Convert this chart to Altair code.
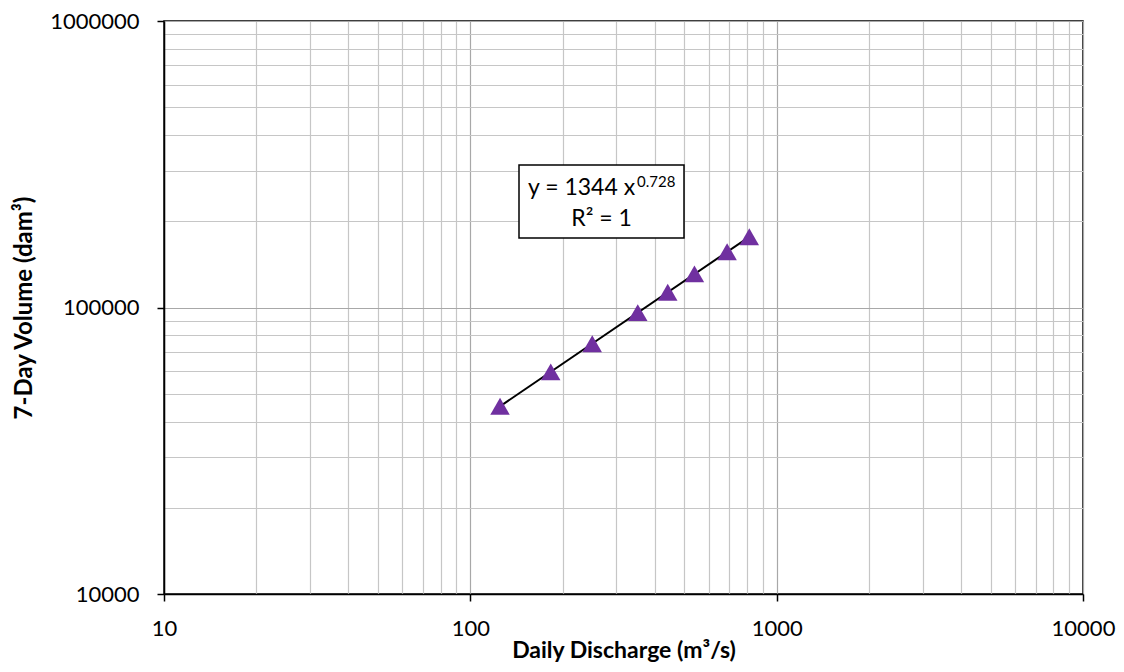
import altair as alt
import pandas as pd

# Data
discharge = [125, 183, 250, 352, 441, 539, 689, 814]
volume = [45200, 59600, 74700, 96000, 113000, 131000, 156500, 176500]
trend_x = [125, 814]
trend_y = [45200, 176500]

x_major = [10, 100, 1000, 10000]
y_major = [10000, 100000, 1000000]
x_grid = [m * d for d in [10, 100, 1000] for m in range(1, 10)] + [10000]
y_grid = [m * d for d in [10000, 100000] for m in range(1, 10)] + [1000000]

eq_main = "y = 1344 x"
eq_exp = "0.728"
eq_r2 = "R² = 1"

FONT = "Lato"
pts = pd.DataFrame({"q": discharge, "v": volume})
trend = pd.DataFrame({"q": trend_x, "v": trend_y})

def test_for(vals):
    return " || ".join(f"datum.value == {v}" for v in vals)

xt = test_for(x_major)
yt = test_for(y_major)

xscale = alt.Scale(type="log", domain=[10, 10000], nice=False)
yscale = alt.Scale(type="log", domain=[10000, 1000000], nice=False)

xaxis = alt.Axis(
    values=x_grid,
    labelExpr=f"({xt}) ? format(datum.value, 'd') : ''",
    title="Daily Discharge (m³/s)",
    grid=True,
    gridColor={"condition": {"test": xt, "value": "#a8a8a8"}, "value": "#c6c6c6"},
    gridWidth=1.2,
    tickOpacity={"condition": {"test": xt, "value": 1}, "value": 0},
    tickColor="black",
    tickSize=7,
    tickWidth=1.5,
    domainColor="black",
    domainWidth=1.5,
    labelFont=FONT,
    labelFontSize=22,
    labelColor="black",
    labelPadding=17,
    labelFlush=False,
    labelOverlap=False,
    titleFont=FONT,
    titleFontSize=23,
    titleFontWeight="bold",
    titleColor="black",
    titlePadding=0,
)
yaxis = alt.Axis(
    values=y_grid,
    labelExpr=f"({yt}) ? format(datum.value, 'd') : ''",
    title="7-Day Volume (dam³)",
    grid=True,
    gridColor={"condition": {"test": yt, "value": "#a8a8a8"}, "value": "#c6c6c6"},
    gridWidth=1.2,
    tickOpacity={"condition": {"test": yt, "value": 1}, "value": 0},
    tickColor="black",
    tickSize=7,
    tickWidth=1.5,
    domainColor="black",
    domainWidth=1.5,
    labelFont=FONT,
    labelFontSize=22,
    labelColor="black",
    labelPadding=18,
    labelFlush=False,
    labelOverlap=False,
    titleFont=FONT,
    titleFontSize=24,
    titleFontWeight="bold",
    titleColor="black",
    titleX=-140,
    titleAngle=270,
    titleAlign="center",
    titleBaseline="middle",
)

line = alt.Chart(trend).mark_line(color="black", strokeWidth=2).encode(
    x=alt.X("q:Q", scale=xscale, axis=xaxis),
    y=alt.Y("v:Q", scale=yscale, axis=yaxis),
)
points = alt.Chart(pts).mark_point(
    shape="triangle-up", filled=True, color="#7030a0", opacity=1, size=380
).encode(x=alt.X("q:Q", scale=xscale), y=alt.Y("v:Q", scale=yscale))

one = "datum.q == 125"
box = alt.Chart(pts).mark_rect(
    fill="white", stroke="black", strokeWidth=1.5
).encode(
    x=alt.value(355), x2=alt.value(520), y=alt.value(144), y2=alt.value(217)
).transform_filter(one)
t1 = alt.Chart(pts).mark_text(
    align="left", baseline="alphabetic", font=FONT, fontSize=23, color="black"
).encode(x=alt.value(364), y=alt.value(174), text=alt.value(eq_main)).transform_filter(one)
t2 = alt.Chart(pts).mark_text(
    align="left", baseline="alphabetic", font=FONT, fontSize=15, color="black"
).encode(x=alt.value(473), y=alt.value(166), text=alt.value(eq_exp)).transform_filter(one)
t3 = alt.Chart(pts).mark_text(
    align="center", baseline="alphabetic", font=FONT, fontSize=23, color="black"
).encode(x=alt.value(437.5), y=alt.value(205), text=alt.value(eq_r2)).transform_filter(one)

chart = (
    alt.layer(line, points, box, t1, t2, t3)
    .properties(
        width=919,
        height=573,
        autosize=alt.AutoSizeParams(type="none"),
        padding={"left": 156, "top": 13, "right": 33, "bottom": 70},
        background="white",
    )
    .configure_view(stroke="black", strokeWidth=1.5)
)

chart.save("out.html", embed_options={"renderer": "svg", "actions": False})
